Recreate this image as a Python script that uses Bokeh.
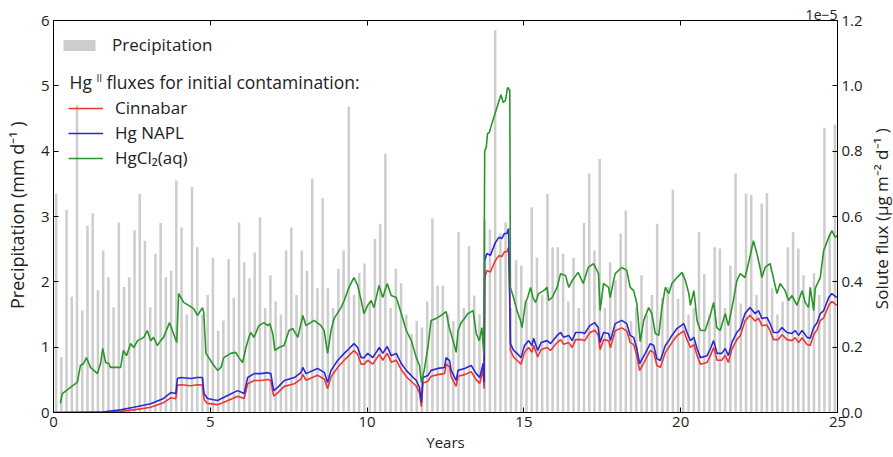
import math
from bokeh.plotting import figure
from bokeh.layouts import row
from bokeh.models import (Range1d, LinearAxis, FixedTicker, Label, Legend, LegendItem,
                          ColumnDataSource, NumeralTickFormatter, Title)
from bokeh.core.properties import value
from bokeh.embed import file_html
from bokeh.resources import INLINE

# ---------------- data ----------------
# precipitation (mm/d), one bar every 1/6 year starting at year 0
precip_step_years = 1.0 / 6.0
precipitation = [
    3.35, 0.85, 3.10, 1.77, 4.70, 1.56, 2.86, 3.05, 1.87, 2.48,
    2.07, 1.61, 2.91, 1.92, 2.07, 2.79, 3.35, 2.63, 1.61, 2.43,
    2.90, 2.07, 2.17, 3.55, 2.83, 1.50, 3.45, 2.53, 1.50, 1.80,
    2.37, 1.25, 1.41, 2.35, 1.76, 2.91, 2.30, 2.05, 2.45, 2.99,
    1.60, 2.10, 1.70, 1.50, 2.48, 2.83, 1.80, 2.48, 2.17, 3.58,
    1.90, 3.28, 1.90, 1.60, 2.20, 2.48, 4.68, 1.80, 2.14, 2.28,
    1.70, 2.66, 2.89, 3.96, 1.60, 2.20, 1.98, 1.50, 1.20, 1.40,
    1.30, 1.70, 2.97, 1.94, 1.94, 1.50, 1.40, 2.76, 1.60, 2.55,
    1.79, 1.50, 2.94, 2.80, 5.85, 2.74, 2.91, 1.60, 2.33, 2.25,
    1.70, 3.14, 2.37, 1.80, 3.35, 2.53, 2.53, 2.43, 1.70, 2.37,
    1.60, 2.90, 3.66, 2.48, 3.88, 1.60, 2.30, 2.02, 2.74, 3.09,
    1.40, 1.61, 2.10, 1.50, 1.80, 2.89, 1.76, 1.92, 3.41, 1.74,
    2.14, 1.50, 1.60, 2.76, 2.12, 1.50, 2.53, 2.51, 1.60, 2.25,
    3.66, 1.67, 3.35, 3.33, 1.80, 3.20, 3.36, 1.90, 1.50, 1.70,
    2.53, 2.76, 2.51, 2.10, 1.60, 2.13, 1.80, 4.36, 2.74, 4.41,
]
precip_years = [(k + 0.5) * precip_step_years for k in range(len(precipitation))]

FLUX_SCALE = 1e-5  # flux values below are in units of 1e-5 ug m-2 d-1

# Hg NAPL and Cinnabar share the same time points
napl_years = [
    0.00, 1.50, 2.14, 2.56, 3.10, 3.51, 3.74, 3.90, 3.95, 4.06, 4.38, 4.59, 4.75, 4.80, 4.91,
    5.23, 5.55, 5.87, 6.08, 6.19, 6.40, 6.61, 6.83, 6.93, 7.02, 7.15, 7.36, 7.68, 7.89, 7.95,
    8.05, 8.42, 8.64, 8.74, 8.85, 9.06, 9.27, 9.43, 9.58, 9.70, 9.81, 9.91, 10.02, 10.18, 10.39,
    10.50, 10.64, 10.77, 10.93, 11.09, 11.25, 11.41, 11.57, 11.67, 11.73, 11.78, 11.94, 12.04, 12.26, 12.47,
    12.52, 12.63, 12.68, 12.84, 12.90, 13.11, 13.32, 13.48, 13.59, 13.70, 13.73, 13.75, 13.82, 13.93, 14.09,
    14.20, 14.30, 14.38, 14.46, 14.51, 14.55, 14.57, 14.67, 14.78, 14.91, 15.02, 15.15, 15.26, 15.31, 15.44,
    15.55, 15.74, 15.85, 16.06, 16.17, 16.27, 16.43, 16.54, 16.65, 16.86, 16.94, 17.10, 17.26, 17.37, 17.43,
    17.54, 17.70, 17.76, 17.91, 18.12, 18.28, 18.39, 18.50, 18.60, 18.69, 18.87, 19.03, 19.14, 19.24, 19.35,
    19.51, 19.62, 19.72, 19.88, 20.10, 20.20, 20.31, 20.42, 20.52, 20.63, 20.84, 20.95, 21.05, 21.16, 21.31,
    21.42, 21.52, 21.63, 21.79, 21.90, 22.05, 22.21, 22.37, 22.48, 22.59, 22.75, 22.85, 22.96, 23.10, 23.23,
    23.39, 23.55, 23.65, 23.76, 23.87, 24.03, 24.13, 24.24, 24.35, 24.45, 24.56, 24.72, 24.82, 24.98,
]
napl_flux = [
    0.000, 0.001, 0.008, 0.016, 0.027, 0.043, 0.061, 0.058, 0.104, 0.107, 0.104, 0.107, 0.107, 0.058, 0.043,
    0.037, 0.052, 0.067, 0.058, 0.107, 0.119, 0.119, 0.122, 0.119, 0.067, 0.077, 0.098, 0.107, 0.122, 0.138,
    0.119, 0.135, 0.122, 0.092, 0.129, 0.159, 0.181, 0.196, 0.211, 0.199, 0.168, 0.168, 0.181, 0.168, 0.199,
    0.181, 0.202, 0.174, 0.181, 0.150, 0.129, 0.113, 0.098, 0.077, 0.031, 0.107, 0.113, 0.129, 0.135, 0.138,
    0.168, 0.159, 0.129, 0.098, 0.129, 0.135, 0.144, 0.119, 0.107, 0.150, 0.092, 0.465, 0.487, 0.481, 0.520,
    0.536, 0.533, 0.548, 0.548, 0.563, 0.364, 0.211, 0.190, 0.181, 0.168, 0.205, 0.220, 0.205, 0.227, 0.190,
    0.214, 0.220, 0.211, 0.236, 0.245, 0.230, 0.236, 0.220, 0.245, 0.245, 0.242, 0.266, 0.275, 0.260, 0.214,
    0.245, 0.242, 0.220, 0.272, 0.282, 0.272, 0.236, 0.230, 0.196, 0.150, 0.181, 0.211, 0.205, 0.165, 0.159,
    0.205, 0.220, 0.236, 0.257, 0.272, 0.245, 0.220, 0.230, 0.196, 0.168, 0.174, 0.196, 0.220, 0.181, 0.181,
    0.196, 0.174, 0.214, 0.245, 0.257, 0.303, 0.321, 0.303, 0.312, 0.288, 0.291, 0.272, 0.245, 0.245, 0.260,
    0.245, 0.242, 0.251, 0.236, 0.251, 0.230, 0.227, 0.260, 0.275, 0.303, 0.312, 0.352, 0.364, 0.352,
]
cinnabar_flux = [
    0.000, 0.000, 0.003, 0.008, 0.016, 0.030, 0.045, 0.042, 0.083, 0.085, 0.082, 0.085, 0.084, 0.040, 0.028,
    0.024, 0.036, 0.050, 0.043, 0.088, 0.098, 0.098, 0.101, 0.098, 0.050, 0.060, 0.080, 0.088, 0.102, 0.117,
    0.099, 0.114, 0.102, 0.073, 0.109, 0.138, 0.160, 0.175, 0.190, 0.178, 0.148, 0.148, 0.160, 0.148, 0.178,
    0.160, 0.181, 0.154, 0.160, 0.131, 0.110, 0.095, 0.081, 0.061, 0.018, 0.090, 0.096, 0.111, 0.116, 0.119,
    0.148, 0.140, 0.110, 0.080, 0.111, 0.116, 0.125, 0.100, 0.089, 0.130, 0.073, 0.413, 0.435, 0.430, 0.465,
    0.480, 0.478, 0.492, 0.492, 0.505, 0.330, 0.190, 0.170, 0.160, 0.148, 0.184, 0.199, 0.184, 0.206, 0.170,
    0.193, 0.199, 0.190, 0.214, 0.223, 0.209, 0.214, 0.199, 0.223, 0.223, 0.220, 0.244, 0.252, 0.238, 0.192,
    0.223, 0.220, 0.198, 0.250, 0.259, 0.250, 0.214, 0.208, 0.175, 0.128, 0.160, 0.190, 0.184, 0.144, 0.138,
    0.184, 0.199, 0.214, 0.235, 0.250, 0.223, 0.199, 0.208, 0.175, 0.148, 0.153, 0.175, 0.199, 0.160, 0.160,
    0.175, 0.153, 0.193, 0.223, 0.235, 0.280, 0.298, 0.280, 0.289, 0.266, 0.268, 0.250, 0.223, 0.223, 0.238,
    0.223, 0.220, 0.229, 0.214, 0.229, 0.208, 0.205, 0.238, 0.253, 0.281, 0.290, 0.328, 0.340, 0.328,
]

hgcl2_years = [
    0.22, 0.28, 0.54, 0.76, 0.86, 0.96, 1.05, 1.18, 1.40, 1.50, 1.57, 1.66, 1.76, 1.82, 2.14,
    2.23, 2.33, 2.46, 2.56, 2.68, 2.88, 2.99, 3.10, 3.19, 3.31, 3.42, 3.51, 3.70, 3.79, 3.93,
    3.99, 4.15, 4.31, 4.47, 4.59, 4.75, 4.79, 4.86, 4.95, 5.07, 5.23, 5.34, 5.43, 5.65, 5.81,
    5.91, 6.03, 6.13, 6.23, 6.29, 6.39, 6.55, 6.71, 6.83, 6.90, 6.99, 7.06, 7.19, 7.35, 7.51,
    7.63, 7.79, 7.95, 8.05, 8.31, 8.53, 8.63, 8.74, 8.85, 8.95, 9.17, 9.27, 9.42, 9.58, 9.70,
    9.81, 9.90, 10.02, 10.13, 10.22, 10.38, 10.50, 10.64, 10.77, 10.93, 11.09, 11.25, 11.41, 11.57, 11.67,
    11.73, 11.82, 11.94, 12.04, 12.20, 12.36, 12.52, 12.62, 12.74, 12.84, 12.90, 13.00, 13.22, 13.38, 13.48,
    13.58, 13.66, 13.72, 13.75, 13.80, 13.84, 13.90, 13.98, 14.09, 14.19, 14.27, 14.34, 14.41, 14.48, 14.55,
    14.57, 14.67, 14.78, 14.89, 14.94, 15.05, 15.12, 15.21, 15.29, 15.37, 15.47, 15.63, 15.74, 15.79, 15.90,
    16.06, 16.17, 16.33, 16.43, 16.54, 16.73, 16.89, 17.05, 17.22, 17.38, 17.43, 17.54, 17.70, 17.75, 17.91,
    18.12, 18.28, 18.39, 18.50, 18.60, 18.71, 18.82, 18.98, 19.08, 19.19, 19.30, 19.40, 19.51, 19.62, 19.72,
    19.88, 20.04, 20.15, 20.26, 20.31, 20.42, 20.52, 20.63, 20.78, 20.94, 21.05, 21.15, 21.26, 21.42, 21.52,
    21.68, 21.79, 21.90, 22.05, 22.16, 22.32, 22.43, 22.53, 22.59, 22.69, 22.85, 22.96, 23.07, 23.17, 23.33,
    23.44, 23.55, 23.71, 23.87, 23.97, 24.08, 24.13, 24.24, 24.29, 24.45, 24.56, 24.72, 24.82, 24.93, 25.00,
]
hgcl2_flux = [
    0.028, 0.058, 0.077, 0.092, 0.144, 0.150, 0.168, 0.138, 0.119, 0.150, 0.196, 0.153, 0.150, 0.138, 0.138,
    0.190, 0.174, 0.211, 0.199, 0.220, 0.230, 0.251, 0.220, 0.230, 0.205, 0.220, 0.230, 0.275, 0.251, 0.214,
    0.364, 0.337, 0.328, 0.318, 0.297, 0.321, 0.306, 0.181, 0.168, 0.150, 0.129, 0.138, 0.168, 0.181, 0.184,
    0.168, 0.153, 0.196, 0.230, 0.245, 0.230, 0.266, 0.275, 0.266, 0.272, 0.242, 0.190, 0.199, 0.205, 0.251,
    0.257, 0.230, 0.297, 0.266, 0.282, 0.266, 0.251, 0.181, 0.251, 0.288, 0.321, 0.343, 0.383, 0.413, 0.389,
    0.343, 0.303, 0.328, 0.343, 0.321, 0.389, 0.352, 0.395, 0.358, 0.352, 0.303, 0.251, 0.220, 0.168, 0.144,
    0.092, 0.129, 0.199, 0.282, 0.288, 0.297, 0.309, 0.260, 0.220, 0.184, 0.251, 0.275, 0.303, 0.312, 0.242,
    0.220, 0.260, 0.181, 0.802, 0.811, 0.854, 0.857, 0.885, 0.918, 0.949, 0.973, 0.949, 0.955, 0.995, 0.986,
    0.383, 0.352, 0.312, 0.282, 0.260, 0.337, 0.352, 0.383, 0.352, 0.337, 0.364, 0.373, 0.383, 0.343, 0.352,
    0.383, 0.425, 0.419, 0.383, 0.404, 0.429, 0.395, 0.444, 0.456, 0.425, 0.312, 0.395, 0.383, 0.352, 0.425,
    0.444, 0.435, 0.383, 0.373, 0.334, 0.217, 0.282, 0.321, 0.303, 0.242, 0.236, 0.321, 0.383, 0.364, 0.395,
    0.413, 0.429, 0.404, 0.364, 0.328, 0.373, 0.282, 0.251, 0.251, 0.297, 0.337, 0.260, 0.251, 0.303, 0.266,
    0.343, 0.404, 0.425, 0.413, 0.456, 0.526, 0.487, 0.444, 0.413, 0.444, 0.456, 0.410, 0.364, 0.395, 0.373,
    0.343, 0.358, 0.328, 0.373, 0.337, 0.321, 0.383, 0.312, 0.380, 0.413, 0.496, 0.536, 0.557, 0.536, 0.542,
]

x_ticks = [0, 5, 10, 15, 20, 25]
precip_ticks = [0, 1, 2, 3, 4, 5, 6]
flux_ticks = [0.0, 0.2, 0.4, 0.6, 0.8, 1.0, 1.2]

# ---------------- layout constants ----------------
FONT = "Open Sans"
TXT = "#222222"
W, H = 893, 457
LEFT_STRIP = 28      # narrow panel holding the left axis title
RIGHT_STRIP = 24     # narrow panel holding the right axis title
FRAME_L, FRAME_R, FRAME_T, FRAME_B = 53, 837, 20, 412

p = figure(width=W - LEFT_STRIP - RIGHT_STRIP, height=H,
           x_range=Range1d(0, 25), y_range=Range1d(0, 6),
           output_backend="svg", toolbar_location=None,
           min_border_left=FRAME_L - LEFT_STRIP,
           min_border_right=(W - RIGHT_STRIP) - FRAME_R,
           min_border_top=FRAME_T, min_border_bottom=H - FRAME_B)
p.extra_y_ranges = {"flux": Range1d(0, 1.2)}
p.grid.visible = False
p.outline_line_color = "black"
p.outline_line_width = 1
p.background_fill_color = "white"
p.border_fill_color = "white"

def style_axis(ax, labels=True):
    ax.major_tick_in = 5
    ax.major_tick_out = 0
    ax.minor_tick_line_color = None
    ax.axis_line_color = "black"
    ax.major_tick_line_color = "black"
    ax.major_label_text_font = FONT
    ax.major_label_text_color = TXT
    ax.major_label_text_font_size = "15px" if labels else "0px"
    ax.major_label_standoff = 4 if labels else 0

xa = p.xaxis[0]
style_axis(xa)
xa.ticker = FixedTicker(ticks=x_ticks)
xa.axis_label = "Years"
xa.axis_label_text_font = FONT
xa.axis_label_text_font_style = "normal"
xa.axis_label_text_font_size = "15px"
xa.axis_label_text_color = TXT
xa.axis_label_standoff = 2

ya = p.yaxis[0]
style_axis(ya)
ya.ticker = FixedTicker(ticks=precip_ticks)

top_ax = LinearAxis(ticker=FixedTicker(ticks=x_ticks),
                    major_label_overrides={t: "" for t in x_ticks})
style_axis(top_ax, labels=False)
p.add_layout(top_ax, "above")

right_ax = LinearAxis(y_range_name="flux", ticker=FixedTicker(ticks=flux_ticks),
                      formatter=NumeralTickFormatter(format="0.0"))
style_axis(right_ax)
p.add_layout(right_ax, "right")

p.add_layout(Title(text="1e\u22125", align="right", text_font=FONT, text_font_size="14px",
                   text_font_style="normal", text_color=TXT, standoff=1, offset=0), "above")

# ---------------- marks ----------------
src = ColumnDataSource(dict(x=precip_years, top=precipitation))
bars = p.vbar(x="x", top="top", width=0.08, source=src, fill_color="#cdcdcd", line_color=None)

r_cin = p.line(napl_years, cinnabar_flux, y_range_name="flux", line_color="#f03535", line_width=1.6)
r_napl = p.line(napl_years, napl_flux, y_range_name="flux", line_color="#2a2ad2", line_width=1.6)
r_hgcl = p.line(hgcl2_years, hgcl2_flux, y_range_name="flux", line_color="#2a962a", line_width=1.6)

# ---------------- legends ----------------
leg1 = Legend(items=[LegendItem(label="Precipitation", renderers=[bars])],
              location=(6, 356), orientation="vertical",
              glyph_width=40, glyph_height=14, label_height=14, label_standoff=13,
              padding=5, margin=0, spacing=0,
              border_line_color=None, background_fill_alpha=0,
              label_text_font=FONT, label_text_font_size="17px", label_text_color=TXT)
p.add_layout(leg1)

leg2 = Legend(items=[LegendItem(label="Cinnabar", renderers=[r_cin]),
                     LegendItem(label="Hg NAPL", renderers=[r_napl]),
                     LegendItem(label="HgCl\u2082(aq)", renderers=[r_hgcl])],
              location=(15, 243), orientation="vertical",
              glyph_width=35, glyph_height=20, label_height=20, label_standoff=12,
              padding=5, margin=0, spacing=2,
              border_line_color=None, background_fill_alpha=0,
              label_text_font=FONT, label_text_font_size="17px", label_text_color=TXT)
p.add_layout(leg2)

# heading "Hg^II fluxes for initial contamination:" (inside the frame)
def px_to_year(px):
    return (px - FRAME_L) / ((FRAME_R - FRAME_L) / 25.0)

def py_to_mm(py):
    return (FRAME_B - py) / ((FRAME_B - FRAME_T) / 6.0)

for txt, x, y, size in [("Hg", 69, 81, "17.5px"), ("II", 96, 77, "10px"),
                        ("fluxes for initial contamination:", 106, 81, "17.5px")]:
    p.add_layout(Label(x=px_to_year(x), y=py_to_mm(y), text=txt, text_font=FONT,
                       text_font_size=size, text_color=TXT, text_baseline="middle",
                       text_align="left"))

# ---------------- side strips with the vertical axis titles ----------------
def side_strip(width, cx, cy, text, size):
    s = figure(width=width, height=H, x_range=Range1d(0, width), y_range=Range1d(0, H),
               output_backend="svg", toolbar_location=None,
               x_axis_location=None, y_axis_location=None, min_border=0)
    s.grid.visible = False
    s.outline_line_color = None
    s.background_fill_color = "white"
    s.border_fill_color = "white"
    s.text(x=[cx], y=[H - cy], text=[text], angle=math.pi / 2,
           text_align="center", text_baseline="middle",
           text_font=value(FONT), text_font_size=size, text_color=TXT)
    return s

left_strip = side_strip(LEFT_STRIP, 16, 227, "Precipitation (mm d\u207b\u00b9 )", "18px")
right_strip = side_strip(RIGHT_STRIP, 12, 231, "Solute flux (\u03bcg m\u207b\u00b2 d\u207b\u00b9 )", "17px")

layout = row(left_strip, p, right_strip, spacing=0)

open("out.html", "w").write(file_html(layout, INLINE))
